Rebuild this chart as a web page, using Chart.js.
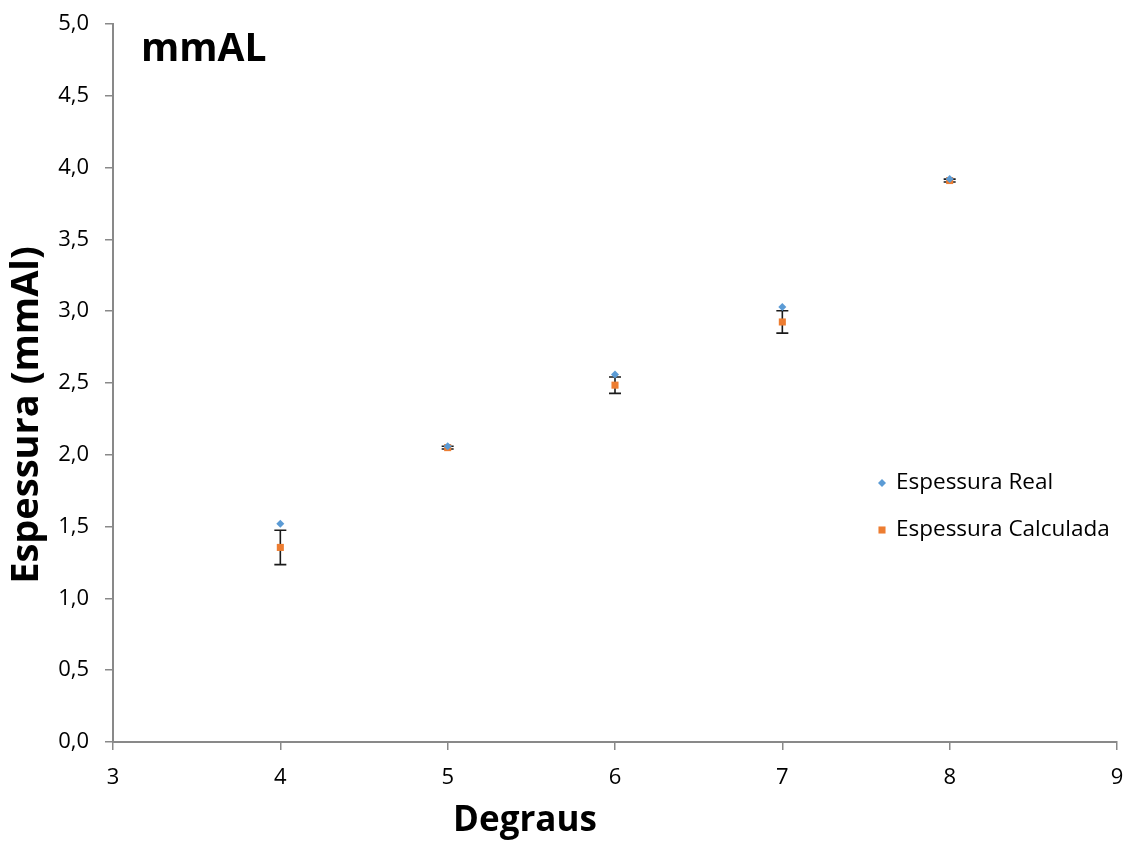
<!DOCTYPE html>
<html>
<head>
<meta charset="utf-8">
<script src="https://cdn.jsdelivr.net/npm/chart.js@4.4.0/dist/chart.umd.min.js"></script>
<style>
html,body{margin:0;padding:0;background:#fff;}
#wrap{width:1125px;height:855px;}
</style>
</head>
<body>
<div id="wrap"><canvas id="c" width="1125" height="855"></canvas></div>
<script>
const degraus = [4, 5, 6, 7, 8];
const espessuraReal = [1.52, 2.06, 2.56, 3.03, 3.92];
const espessuraCalculada = [1.355, 2.05, 2.485, 2.925, 3.91];
const erroCalculada = [0.12, 0.01, 0.057, 0.078, 0.01];
const xTicks = [3, 4, 5, 6, 7, 8, 9];
const yTicks = [0, 0.5, 1, 1.5, 2, 2.5, 3, 3.5, 4, 4.5, 5];
const labelReal = 'Espessura Real';
const labelCalc = 'Espessura Calculada';
const chartTitle = 'mmAL';
const xTitle = 'Degraus';
const yTitle = 'Espessura (mmAl)';

const FONT = '"Open Sans", Lato, sans-serif';
const blue = '#5B9BD5';
const orange = '#ED7D31';

const errorBars = {
  id: 'errorBars',
  beforeDatasetsDraw(chart) {
    const {ctx, scales: {x, y}} = chart;
    ctx.save();
    ctx.strokeStyle = '#1a1a1a';
    ctx.lineWidth = 1.6;
    degraus.forEach((d, i) => {
      const px = x.getPixelForValue(d);
      const top = y.getPixelForValue(espessuraCalculada[i] + erroCalculada[i]);
      const bot = y.getPixelForValue(espessuraCalculada[i] - erroCalculada[i]);
      ctx.beginPath();
      ctx.moveTo(px, top); ctx.lineTo(px, bot);
      ctx.moveTo(px - 6, top); ctx.lineTo(px + 6, top);
      ctx.moveTo(px - 6, bot); ctx.lineTo(px + 6, bot);
      ctx.stroke();
    });
    ctx.restore();
  }
};

const texts = {
  id: 'texts',
  afterDraw(chart) {
    const {ctx} = chart;
    ctx.save();
    ctx.fillStyle = '#000';
    ctx.textBaseline = 'alphabetic';
    ctx.textAlign = 'left';
    ctx.font = 'bold 39px ' + FONT;
    ctx.fillText(chartTitle, 141, 61);
    ctx.textAlign = 'center';
    ctx.font = 'bold 35px ' + FONT;
    ctx.fillText(xTitle, 525, 831);
    ctx.save();
    ctx.translate(27, 415);
    ctx.rotate(-Math.PI / 2);
    ctx.textBaseline = 'middle';
    ctx.font = 'bold 38px ' + FONT;
    ctx.fillText(yTitle, 0, 0);
    ctx.restore();
    // legend
    const items = [[labelReal, 0], [labelCalc, 1]];
    items.forEach(([t, i], k) => {
      const ly = 483 + k * 47;
      const ds = chart.data.datasets[i];
      ctx.fillStyle = ds.backgroundColor;
      ctx.strokeStyle = ds.backgroundColor;
      Chart.helpers.drawPoint(ctx, {pointStyle: ds.pointStyle, radius: ds.pointRadius, borderWidth: 0}, 882, ly);
      ctx.fillStyle = '#000';
      ctx.textAlign = 'left';
      ctx.textBaseline = 'middle';
      ctx.font = '22.5px ' + FONT;
      ctx.fillText(t, 896, ly);
    });
    ctx.restore();
  }
};

const fmt = v => Number(v).toFixed(1).replace('.', ',');

new Chart(document.getElementById('c'), {
  type: 'scatter',
  data: {
    datasets: [
      {
        label: labelReal,
        data: degraus.map((d, i) => ({x: d, y: espessuraReal[i]})),
        pointStyle: 'rectRot',
        pointRadius: 4,
        pointHoverRadius: 4,
        backgroundColor: blue,
        borderColor: blue,
        borderWidth: 0
      },
      {
        label: labelCalc,
        data: degraus.map((d, i) => ({x: d, y: espessuraCalculada[i]})),
        pointStyle: 'rect',
        pointRadius: 5,
        pointHoverRadius: 5,
        backgroundColor: orange,
        borderColor: orange,
        borderWidth: 0
      }
    ]
  },
  options: {
    responsive: false,
    animation: false,
    devicePixelRatio: 1,
    layout: {padding: {top: 24, right: 8, left: 0, bottom: 0}},
    plugins: {legend: {display: false}, tooltip: {enabled: false}, title: {display: false}},
    scales: {
      x: {
        type: 'linear',
        min: 3, max: 9,
        afterBuildTicks: s => { s.ticks = xTicks.map(v => ({value: v})); },
        afterFit: s => { s.height = 113; s.paddingLeft = 0; s.paddingRight = 0; },
        grid: {display: true, drawOnChartArea: false, drawTicks: true, tickLength: 8, color: '#898989', lineWidth: 1.5},
        border: {display: true, color: '#898989', width: 2},
        ticks: {color: '#000', font: {family: FONT, size: 22}, padding: 15, callback: v => String(v), maxRotation: 0}
      },
      y: {
        type: 'linear',
        min: 0, max: 5,
        afterBuildTicks: s => { s.ticks = yTicks.map(v => ({value: v})); },
        afterFit: s => { s.width = 113; s.paddingTop = 0; s.paddingBottom = 0; },
        grid: {display: true, drawOnChartArea: false, drawTicks: true, tickLength: 8, color: '#898989', lineWidth: 1.5},
        border: {display: true, color: '#898989', width: 2},
        ticks: {color: '#000', font: {family: FONT, size: 22}, padding: 16, callback: v => fmt(v)}
      }
    }
  },
  plugins: [errorBars, texts]
});
</script>
</body>
</html>
